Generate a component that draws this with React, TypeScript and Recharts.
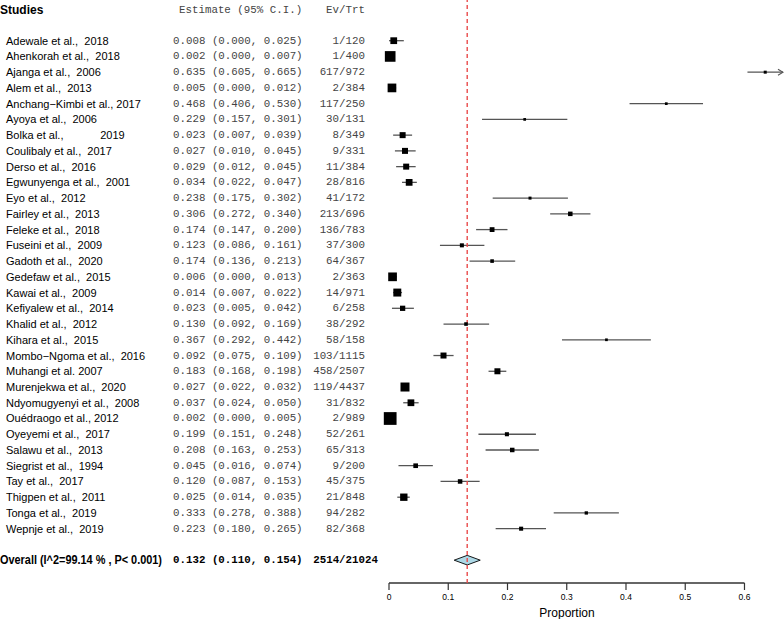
import { ScatterChart, Scatter, XAxis, YAxis, ReferenceLine, ErrorBar } from 'recharts'

// Forest plot of prevalence estimates (proportion, 95% CI) by study

const studies = [
  'Adewale et al.,  2018',
  'Ahenkorah et al.,  2018',
  'Ajanga et al.,  2006',
  'Alem et al.,  2013',
  'Anchang\u2212Kimbi et al., 2017',
  'Ayoya et al.,  2006',
  'Bolka et al.,            2019',
  'Coulibaly et al.,  2017',
  'Derso et al.,  2016',
  'Egwunyenga et al.,  2001',
  'Eyo et al.,  2012',
  'Fairley et al.,  2013',
  'Feleke et al.,  2018',
  'Fuseini et al.,  2009',
  'Gadoth et al.,  2020',
  'Gedefaw et al.,  2015',
  'Kawai et al.,  2009',
  'Kefiyalew et al.,  2014',
  'Khalid et al.,  2012',
  'Kihara et al.,  2015',
  'Mombo\u2212Ngoma et al.,  2016',
  'Muhangi et al. 2007',
  'Murenjekwa et al.,  2020',
  'Ndyomugyenyi et al.,  2008',
  'Ouédraogo et al., 2012',
  'Oyeyemi et al.,  2017',
  'Salawu et al.,  2013',
  'Siegrist et al.,  1994',
  'Tay et al.,  2017',
  'Thigpen et al.,  2011',
  'Tonga et al.,  2019',
  'Wepnje et al.,  2019',
]

const estimates = [
  0.008, 0.002, 0.635, 0.005, 0.468, 0.229, 0.023, 0.027, 0.029, 0.034, 0.238,
  0.306, 0.174, 0.123, 0.174, 0.006, 0.014, 0.023, 0.13, 0.367, 0.092, 0.183,
  0.027, 0.037, 0.002, 0.199, 0.208, 0.045, 0.12, 0.025, 0.333, 0.223,
]
const lower = [
  0.0, 0.0, 0.605, 0.0, 0.406, 0.157, 0.007, 0.01, 0.012, 0.022, 0.175, 0.272,
  0.147, 0.086, 0.136, 0.0, 0.007, 0.005, 0.092, 0.292, 0.075, 0.168, 0.022,
  0.024, 0.0, 0.151, 0.163, 0.016, 0.087, 0.014, 0.278, 0.18,
]
const upper = [
  0.025, 0.007, 0.665, 0.012, 0.53, 0.301, 0.039, 0.045, 0.045, 0.047, 0.302,
  0.34, 0.2, 0.161, 0.213, 0.013, 0.022, 0.042, 0.169, 0.442, 0.109, 0.198,
  0.032, 0.05, 0.005, 0.248, 0.253, 0.074, 0.153, 0.035, 0.388, 0.265,
]
const events = [
  1, 1, 617, 2, 117, 30, 8, 9, 11, 28, 41, 213, 136, 37, 64, 2, 14, 6, 38, 58,
  103, 458, 119, 31, 2, 52, 65, 9, 45, 21, 94, 82,
]
const totals = [
  120, 400, 972, 384, 250, 131, 349, 331, 384, 816, 172, 696, 783, 300, 367,
  363, 971, 258, 292, 158, 1115, 2507, 4437, 832, 989, 261, 313, 200, 375, 848,
  282, 368,
]
// relative study weights (box size)
const weights = [
  4.5, 7.1, 2.0, 5.8, 1.8, 1.8, 4.0, 4.0, 4.0, 4.5, 2.0, 3.0, 3.2, 2.7, 2.4,
  5.8, 5.3, 3.5, 2.4, 1.8, 4.0, 4.0, 6.0, 4.5, 8.5, 2.7, 3.0, 3.1, 3.0, 4.9,
  2.2, 2.7,
]

const overallLabel = 'Overall (I^2=99.14 % , P< 0.001)'
const overall = { est: 0.132, lo: 0.11, hi: 0.154, ev: 2514, n: 21024 }

const xTicks = [0, 0.1, 0.2, 0.3, 0.4, 0.5, 0.6]
const AXIS_MAX = 0.6
const X_MAX = 0.665

const CHART_W = 784
const CHART_H = 619
const Y_AXIS_W = 389
const PLOT_W = CHART_W - Y_AXIS_W - 1
const PX_PER_UNIT = PLOT_W / X_MAX

const HEADER_ROW = -1.95
const OVERALL_ROW = 33
const Y_MIN = -2.585
const Y_MAX = 34.45
const BOX_PX = 1.5

const SANS = '"Liberation Sans", Arial, Helvetica, sans-serif'
const NARROW = '"Liberation Sans Narrow", "Liberation Sans", Arial, sans-serif'
const MONO = '"Liberation Mono", "Courier New", monospace'

const rowTicks = [HEADER_ROW, ...studies.map((_, i) => i), OVERALL_ROW]

const boxSize = (i: number) => weights[i] * BOX_PX

const points = studies.map((s, i) => ({
  name: s,
  x: estimates[i],
  row: i,
  err: [estimates[i] - lower[i], upper[i] - estimates[i]],
}))

// studies whose whole CI sits inside the box: CI shown as a light dash on top
const insidePoints = points.filter(
  (p) => (upper[p.row] - lower[p.row]) * PX_PER_UNIT < boxSize(p.row) - 1.5
)

const fmt = (v: number) => v.toFixed(3)
const ciText = (e: number, l: number, u: number) =>
  `${fmt(e)} (${fmt(l)}, ${fmt(u)})`

function RowLabel(props: any) {
  const { y, payload } = props
  const r = payload.value
  if (r === HEADER_ROW) {
    return (
      <g>
        <text x={0} y={y} dominantBaseline="central" fontFamily={SANS} fontSize={12} fontWeight="bold" fill="#000">
          Studies
        </text>
        <text x={179} y={y} dominantBaseline="central" fontFamily={MONO} fontSize={10.8} fill="#444">
          Estimate (95% C.I.)
        </text>
        <text x={365} y={y} dominantBaseline="central" textAnchor="end" fontFamily={MONO} fontSize={10.8} fill="#444">
          Ev/Trt
        </text>
      </g>
    )
  }
  if (r === OVERALL_ROW) {
    return (
      <g>
        <text x={0} y={y} dominantBaseline="central" fontFamily={NARROW} fontSize={12} fontWeight="bold" fill="#000" textLength={162} lengthAdjust="spacingAndGlyphs">
          {overallLabel}
        </text>
        <text x={173} y={y} dominantBaseline="central" fontFamily={MONO} fontSize={10.8} fontWeight="bold" fill="#000">
          {ciText(overall.est, overall.lo, overall.hi)}
        </text>
        <text x={378} y={y} dominantBaseline="central" textAnchor="end" fontFamily={MONO} fontSize={10.8} fontWeight="bold" fill="#000">
          {`${overall.ev}/${overall.n}`}
        </text>
      </g>
    )
  }
  const i = r as number
  return (
    <g>
      <text x={6} y={y} dominantBaseline="central" fontFamily={SANS} fontSize={11} fill="#000" style={{ whiteSpace: 'pre' }}>
        {studies[i]}
      </text>
      <text x={173} y={y} dominantBaseline="central" fontFamily={MONO} fontSize={10.8} fill="#444">
        {ciText(estimates[i], lower[i], upper[i])}
      </text>
      <text x={365} y={y} dominantBaseline="central" textAnchor="end" fontFamily={MONO} fontSize={10.8} fill="#444">
        {`${events[i]}/${totals[i]}`}
      </text>
    </g>
  )
}

function XTick(props: any) {
  const { x, y, payload } = props
  const v = payload.value as number
  return (
    <text x={x} y={y} dy={1} textAnchor="middle" dominantBaseline="hanging" fontFamily={NARROW} fontSize={8.5} fill="#000">
      {v === 0 ? '0' : v.toFixed(1)}
    </text>
  )
}

function BoxShape(props: any) {
  const { cx, cy, payload } = props
  if (cx == null || cy == null) return null
  const size = boxSize(payload.row)
  return <rect x={cx - size / 2} y={cy - size / 2} width={size} height={size} fill="#000" />
}

const NoShape = () => <g />

// CI line, drawn from the segment's pixel endpoints
function makeCiShape(i: number) {
  return (props: any) => {
    const { x1, x2, y1 } = props
    if (x1 == null || x2 == null) return null
    const arrow = upper[i] > AXIS_MAX
    return (
      <g>
        <line x1={x1} y1={y1} x2={x2} y2={y1} stroke="#555" strokeWidth={1.3} />
        {arrow && (
          <polyline
            points={`${x2 - 5},${y1 - 3} ${x2},${y1} ${x2 - 5},${y1 + 3}`}
            fill="none"
            stroke="#555"
            strokeWidth={1.1}
          />
        )}
      </g>
    )
  }
}

function DiamondShape(props: any) {
  const { x1, x2, y1 } = props
  if (x1 == null || x2 == null) return null
  const mid = x1 + ((overall.est - overall.lo) / (overall.hi - overall.lo)) * (x2 - x1)
  const h = 4.8
  return (
    <polygon
      points={`${x1},${y1} ${mid},${y1 - h} ${x2},${y1} ${mid},${y1 + h}`}
      fill="#add8e6"
      stroke="#000"
      strokeWidth={0.9}
    />
  )
}

export default function App() {
  return (
    <div style={{ position: 'absolute', left: 0, top: 0, background: '#fff' }}>
      <ScatterChart
        width={CHART_W}
        height={CHART_H}
        margin={{ top: 0, right: 1, bottom: 0, left: 0 }}
      >
        <XAxis
          type="number"
          dataKey="x"
          domain={[0, X_MAX]}
          ticks={xTicks}
          interval={0}
          axisLine={false}
          tickLine={{ stroke: '#333', strokeWidth: 1.2 }}
          tickSize={7}
          tickMargin={3}
          height={36}
          tick={<XTick />}
          label={{
            value: 'Proportion',
            position: 'insideBottom',
            offset: 2,
            dx: -19,
            fontSize: 12,
            fill: '#000',
            fontFamily: SANS,
          }}
        />
        <YAxis
          type="number"
          dataKey="row"
          domain={[Y_MIN, Y_MAX]}
          reversed
          ticks={rowTicks}
          interval={0}
          width={Y_AXIS_W}
          axisLine={false}
          tickLine={false}
          tick={<RowLabel />}
        />
        <ReferenceLine
          segment={[
            { x: 0, y: Y_MAX },
            { x: AXIS_MAX, y: Y_MAX },
          ]}
          stroke="#333"
          strokeWidth={1.3}
          ifOverflow="visible"
        />
        {studies.map((s, i) => (
          <ReferenceLine
            key={s}
            segment={[
              { x: lower[i], y: i },
              { x: upper[i], y: i },
            ]}
            ifOverflow="visible"
            shape={makeCiShape(i)}
          />
        ))}
        <ReferenceLine
          segment={[
            { x: overall.lo, y: OVERALL_ROW },
            { x: overall.hi, y: OVERALL_ROW },
          ]}
          ifOverflow="visible"
          shape={DiamondShape}
        />
        <ReferenceLine
          x={overall.est}
          stroke="#e94b4b"
          strokeWidth={1.4}
          strokeDasharray="4 3"
          ifOverflow="visible"
        />
        <Scatter
          data={points}
          dataKey="row"
          shape={BoxShape}
          isAnimationActive={false}
        />
        <Scatter
          data={insidePoints}
          dataKey="row"
          shape={NoShape}
          isAnimationActive={false}
        >
          <ErrorBar
            dataKey="err"
            direction="x"
            width={0}
            stroke="#e6e6e6"
            strokeWidth={1.4}
            isAnimationActive={false}
          />
        </Scatter>
      </ScatterChart>
    </div>
  )
}
